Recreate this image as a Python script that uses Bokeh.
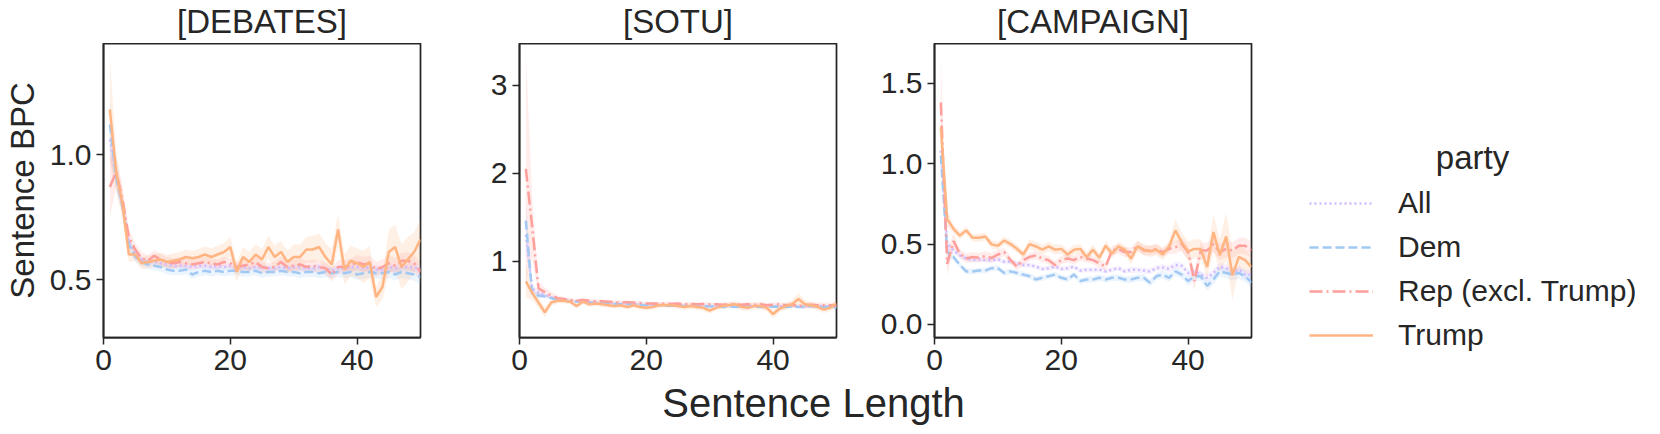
from bokeh.plotting import figure
from bokeh.layouts import row, column
from bokeh.models import Range1d, FixedTicker, Legend, LegendItem
from bokeh.embed import file_html
from bokeh.resources import INLINE
from bokeh.core.properties import value

# ---------------- data ----------------
sentence_length = [1, 2, 3, 4, 5, 6, 7, 8, 9, 10, 11, 12, 13, 14, 15, 16, 17, 18, 19, 20,
                   21, 22, 23, 24, 25, 26, 27, 28, 29, 30, 31, 32, 33, 34, 35, 36, 37, 38, 39, 40,
                   41, 42, 43, 44, 45, 46, 47, 48, 49, 50]
parties = ["All", "Dem", "Rep (excl. Trump)", "Trump"]
panel_titles = ["[DEBATES]", "[SOTU]", "[CAMPAIGN]"]

x_ticks = [0, 20, 40]
x_tick_labels = ["0", "20", "40"]
debates_yticks = [0.5, 1.0]
debates_ylabels = ["0.5", "1.0"]
sotu_yticks = [1, 2, 3]
sotu_ylabels = ["1", "2", "3"]
campaign_yticks = [0.0, 0.5, 1.0, 1.5]
campaign_ylabels = ["0.0", "0.5", "1.0", "1.5"]

# DEBATES
debates_all = [1.06, 0.92, 0.80, 0.65, 0.605, 0.58, 0.57, 0.57, 0.565, 0.56, 0.555, 0.555, 0.555, 0.55, 0.555, 0.555, 0.55, 0.555, 0.55, 0.555,
               0.55, 0.55, 0.545, 0.55, 0.55, 0.545, 0.545, 0.55, 0.545, 0.55, 0.55, 0.545, 0.545, 0.55, 0.545, 0.535, 0.545, 0.545, 0.55, 0.55,
               0.545, 0.55, 0.54, 0.54, 0.55, 0.545, 0.55, 0.55, 0.55, 0.54]
debates_all_ci = [0.08, 0.04, 0.03, 0.02, 0.015, 0.012, 0.012, 0.012, 0.012, 0.012, 0.012, 0.012, 0.012, 0.012, 0.012, 0.012, 0.012, 0.012, 0.012, 0.012,
                  0.012, 0.012, 0.012, 0.012, 0.012, 0.012, 0.012, 0.012, 0.012, 0.012, 0.013, 0.013, 0.013, 0.013, 0.013, 0.014, 0.014, 0.014, 0.014, 0.015,
                  0.015, 0.015, 0.016, 0.016, 0.016, 0.017, 0.017, 0.017, 0.018, 0.018]
debates_dem = [1.12, 0.91, 0.79, 0.64, 0.59, 0.57, 0.56, 0.555, 0.55, 0.54, 0.535, 0.535, 0.54, 0.52, 0.53, 0.535, 0.53, 0.535, 0.53, 0.535,
               0.535, 0.53, 0.53, 0.535, 0.525, 0.53, 0.53, 0.535, 0.53, 0.53, 0.525, 0.53, 0.53, 0.525, 0.53, 0.525, 0.53, 0.525, 0.53, 0.52,
               0.525, 0.53, 0.525, 0.525, 0.53, 0.52, 0.53, 0.525, 0.52, 0.51]
debates_dem_ci = [0.10, 0.05, 0.03, 0.025, 0.02, 0.018, 0.018, 0.018, 0.018, 0.018, 0.018, 0.018, 0.018, 0.018, 0.018, 0.018, 0.018, 0.018, 0.018, 0.018,
                  0.018, 0.018, 0.018, 0.018, 0.018, 0.018, 0.018, 0.018, 0.018, 0.018, 0.02, 0.02, 0.02, 0.02, 0.02, 0.02, 0.02, 0.02, 0.022, 0.022,
                  0.022, 0.022, 0.022, 0.024, 0.024, 0.024, 0.024, 0.025, 0.025, 0.025]
debates_rep = [0.87, 0.93, 0.82, 0.67, 0.62, 0.585, 0.575, 0.595, 0.58, 0.57, 0.565, 0.57, 0.565, 0.56, 0.565, 0.57, 0.565, 0.56, 0.57, 0.565,
               0.55, 0.555, 0.56, 0.57, 0.55, 0.545, 0.55, 0.57, 0.55, 0.555, 0.56, 0.55, 0.555, 0.55, 0.545, 0.52, 0.55, 0.55, 0.555, 0.57,
               0.56, 0.565, 0.54, 0.55, 0.565, 0.555, 0.575, 0.575, 0.565, 0.53]
debates_rep_ci = [0.12, 0.06, 0.05, 0.03, 0.025, 0.025, 0.022, 0.022, 0.022, 0.02, 0.02, 0.02, 0.02, 0.02, 0.02, 0.02, 0.02, 0.02, 0.02, 0.02,
                  0.02, 0.02, 0.022, 0.022, 0.022, 0.022, 0.022, 0.022, 0.022, 0.025, 0.025, 0.025, 0.025, 0.025, 0.025, 0.028, 0.028, 0.028, 0.028, 0.03,
                  0.03, 0.03, 0.03, 0.03, 0.032, 0.032, 0.032, 0.035, 0.035, 0.035]
debates_trump = [1.18, 0.93, 0.80, 0.60, 0.60, 0.565, 0.57, 0.575, 0.58, 0.57, 0.575, 0.58, 0.59, 0.585, 0.59, 0.60, 0.59, 0.60, 0.61, 0.63,
                 0.53, 0.59, 0.57, 0.60, 0.58, 0.63, 0.59, 0.61, 0.57, 0.59, 0.59, 0.62, 0.62, 0.63, 0.59, 0.56, 0.70, 0.54, 0.575, 0.565,
                 0.55, 0.57, 0.43, 0.47, 0.61, 0.63, 0.55, 0.58, 0.61, 0.66]
debates_trump_ci = [0.21, 0.08, 0.06, 0.03, 0.025, 0.025, 0.025, 0.025, 0.028, 0.028, 0.03, 0.03, 0.03, 0.03, 0.032, 0.032, 0.035, 0.035, 0.035, 0.04,
                    0.04, 0.04, 0.04, 0.042, 0.042, 0.045, 0.045, 0.045, 0.045, 0.05, 0.05, 0.05, 0.055, 0.055, 0.055, 0.06, 0.06, 0.06, 0.06, 0.06,
                    0.065, 0.065, 0.04, 0.05, 0.09, 0.09, 0.09, 0.09, 0.08, 0.08]

# SOTU
sotu_all = [1.30, 0.69, 0.64, 0.62, 0.59, 0.57, 0.56, 0.55, 0.545, 0.55, 0.535, 0.53, 0.525, 0.525, 0.52, 0.515, 0.515, 0.51, 0.51, 0.505,
            0.505, 0.505, 0.50, 0.50, 0.50, 0.495, 0.495, 0.495, 0.495, 0.49, 0.495, 0.49, 0.49, 0.49, 0.49, 0.49, 0.49, 0.49, 0.485, 0.49,
            0.49, 0.485, 0.49, 0.485, 0.49, 0.50, 0.49, 0.49, 0.485, 0.48]
sotu_all_ci = [0.20, 0.05, 0.03, 0.02, 0.015, 0.012, 0.01, 0.01, 0.01, 0.01, 0.01, 0.01, 0.01, 0.01, 0.01, 0.01, 0.01, 0.01, 0.01, 0.01,
               0.01, 0.01, 0.01, 0.01, 0.01, 0.01, 0.01, 0.01, 0.01, 0.01, 0.01, 0.01, 0.01, 0.01, 0.01, 0.012, 0.012, 0.012, 0.012, 0.012,
               0.012, 0.012, 0.012, 0.012, 0.014, 0.014, 0.014, 0.014, 0.015, 0.015]
sotu_dem = [1.46, 0.63, 0.61, 0.60, 0.58, 0.56, 0.55, 0.545, 0.54, 0.55, 0.53, 0.525, 0.52, 0.52, 0.515, 0.51, 0.51, 0.505, 0.505, 0.50,
            0.50, 0.50, 0.495, 0.495, 0.49, 0.49, 0.49, 0.49, 0.49, 0.485, 0.49, 0.48, 0.485, 0.48, 0.485, 0.48, 0.485, 0.48, 0.48, 0.485,
            0.48, 0.48, 0.485, 0.48, 0.48, 0.49, 0.48, 0.48, 0.48, 0.47]
sotu_dem_ci = [0.25, 0.04, 0.03, 0.02, 0.015, 0.012, 0.012, 0.012, 0.012, 0.012, 0.012, 0.012, 0.012, 0.012, 0.012, 0.012, 0.012, 0.012, 0.012, 0.012,
               0.012, 0.012, 0.012, 0.012, 0.012, 0.012, 0.012, 0.012, 0.012, 0.012, 0.013, 0.013, 0.013, 0.013, 0.013, 0.014, 0.014, 0.014, 0.014, 0.014,
               0.015, 0.015, 0.015, 0.015, 0.016, 0.016, 0.016, 0.017, 0.017, 0.018]
sotu_rep = [2.05, 1.39, 0.69, 0.65, 0.61, 0.58, 0.57, 0.56, 0.55, 0.56, 0.55, 0.545, 0.545, 0.54, 0.535, 0.53, 0.535, 0.53, 0.525, 0.52,
            0.52, 0.515, 0.52, 0.515, 0.52, 0.51, 0.515, 0.51, 0.515, 0.51, 0.51, 0.505, 0.51, 0.51, 0.505, 0.51, 0.505, 0.51, 0.50, 0.505,
            0.51, 0.50, 0.505, 0.49, 0.50, 0.505, 0.50, 0.50, 0.50, 0.49]
sotu_rep_ci = [1.30, 0.35, 0.08, 0.05, 0.04, 0.03, 0.025, 0.02, 0.02, 0.02, 0.02, 0.02, 0.02, 0.02, 0.02, 0.02, 0.02, 0.02, 0.02, 0.02,
               0.02, 0.02, 0.02, 0.02, 0.02, 0.02, 0.02, 0.02, 0.022, 0.022, 0.022, 0.022, 0.022, 0.022, 0.022, 0.025, 0.025, 0.025, 0.025, 0.025,
               0.025, 0.025, 0.025, 0.025, 0.028, 0.028, 0.028, 0.03, 0.03, 0.03]
sotu_trump = [0.77, 0.64, 0.53, 0.42, 0.53, 0.55, 0.55, 0.54, 0.49, 0.54, 0.51, 0.52, 0.51, 0.50, 0.49, 0.50, 0.48, 0.50, 0.48, 0.47,
              0.48, 0.50, 0.50, 0.50, 0.49, 0.48, 0.49, 0.48, 0.47, 0.44, 0.47, 0.49, 0.50, 0.51, 0.48, 0.47, 0.49, 0.49, 0.47, 0.40,
              0.46, 0.49, 0.51, 0.57, 0.51, 0.50, 0.48, 0.45, 0.47, 0.52]
sotu_trump_ci = [0.18, 0.08, 0.06, 0.06, 0.035, 0.03, 0.03, 0.03, 0.03, 0.03, 0.03, 0.03, 0.03, 0.03, 0.03, 0.03, 0.03, 0.03, 0.03, 0.03,
                 0.03, 0.03, 0.03, 0.03, 0.03, 0.035, 0.035, 0.035, 0.035, 0.035, 0.035, 0.035, 0.035, 0.04, 0.04, 0.04, 0.04, 0.04, 0.04, 0.05,
                 0.04, 0.04, 0.045, 0.07, 0.05, 0.04, 0.04, 0.04, 0.04, 0.04]

# CAMPAIGN
campaign_all = [1.08, 0.50, 0.46, 0.43, 0.41, 0.40, 0.405, 0.40, 0.40, 0.405, 0.39, 0.39, 0.38, 0.37, 0.37, 0.36, 0.345, 0.35, 0.36, 0.345,
                0.35, 0.36, 0.335, 0.34, 0.34, 0.34, 0.33, 0.34, 0.35, 0.33, 0.34, 0.34, 0.335, 0.33, 0.35, 0.355, 0.345, 0.37, 0.365, 0.32,
                0.33, 0.31, 0.29, 0.32, 0.36, 0.35, 0.33, 0.34, 0.31, 0.31]
campaign_all_ci = [0.06, 0.03, 0.02, 0.015, 0.015, 0.015, 0.015, 0.015, 0.015, 0.015, 0.015, 0.015, 0.015, 0.015, 0.015, 0.015, 0.015, 0.015, 0.015, 0.015,
                   0.015, 0.015, 0.015, 0.015, 0.015, 0.015, 0.015, 0.015, 0.015, 0.015, 0.018, 0.018, 0.018, 0.018, 0.018, 0.02, 0.02, 0.02, 0.02, 0.022,
                   0.022, 0.022, 0.025, 0.025, 0.025, 0.025, 0.028, 0.028, 0.03, 0.03]
campaign_dem = [1.05, 0.45, 0.42, 0.37, 0.33, 0.33, 0.335, 0.335, 0.35, 0.35, 0.32, 0.33, 0.32, 0.31, 0.30, 0.28, 0.29, 0.30, 0.31, 0.29,
                0.28, 0.31, 0.27, 0.28, 0.28, 0.29, 0.28, 0.29, 0.29, 0.28, 0.28, 0.29, 0.29, 0.26, 0.30, 0.31, 0.29, 0.33, 0.31, 0.27,
                0.30, 0.30, 0.24, 0.28, 0.33, 0.32, 0.31, 0.32, 0.30, 0.26]
campaign_dem_ci = [0.06, 0.03, 0.02, 0.018, 0.018, 0.018, 0.018, 0.018, 0.018, 0.018, 0.018, 0.018, 0.018, 0.018, 0.018, 0.018, 0.018, 0.018, 0.018, 0.018,
                   0.018, 0.018, 0.018, 0.02, 0.02, 0.02, 0.02, 0.02, 0.02, 0.02, 0.022, 0.022, 0.022, 0.022, 0.022, 0.025, 0.025, 0.025, 0.025, 0.03,
                   0.03, 0.03, 0.03, 0.03, 0.032, 0.032, 0.035, 0.035, 0.035, 0.035]
campaign_rep = [1.38, 0.377, 0.518, 0.44, 0.41, 0.42, 0.415, 0.425, 0.413, 0.435, 0.45, 0.40, 0.36, 0.40, 0.42, 0.43, 0.41, 0.40, 0.37, 0.40,
                0.41, 0.40, 0.42, 0.41, 0.40, 0.38, 0.36, 0.46, 0.47, 0.45, 0.45, 0.49, 0.46, 0.46, 0.47, 0.45, 0.47, 0.48, 0.50, 0.45,
                0.27, 0.46, 0.46, 0.50, 0.45, 0.47, 0.46, 0.49, 0.49, 0.46]
campaign_rep_ci = [0.30, 0.07, 0.05, 0.03, 0.03, 0.03, 0.03, 0.03, 0.03, 0.03, 0.025, 0.025, 0.025, 0.025, 0.025, 0.025, 0.025, 0.025, 0.025, 0.025,
                   0.025, 0.025, 0.025, 0.025, 0.025, 0.025, 0.025, 0.03, 0.03, 0.03, 0.03, 0.03, 0.03, 0.03, 0.03, 0.03, 0.03, 0.04, 0.04, 0.04,
                   0.06, 0.05, 0.05, 0.05, 0.05, 0.05, 0.05, 0.05, 0.05, 0.05]
campaign_trump = [1.227, 0.657, 0.595, 0.553, 0.585, 0.539, 0.539, 0.547, 0.498, 0.49, 0.522, 0.50, 0.471, 0.435, 0.50, 0.485, 0.465, 0.485, 0.465, 0.47,
                  0.435, 0.465, 0.47, 0.419, 0.465, 0.415, 0.49, 0.44, 0.485, 0.465, 0.408, 0.485, 0.465, 0.455, 0.465, 0.435, 0.485, 0.585, 0.51, 0.455,
                  0.47, 0.47, 0.357, 0.575, 0.43, 0.547, 0.305, 0.42, 0.40, 0.357]
campaign_trump_ci = [0.12, 0.05, 0.025, 0.025, 0.025, 0.025, 0.025, 0.025, 0.025, 0.025, 0.025, 0.025, 0.025, 0.025, 0.03, 0.03, 0.03, 0.03, 0.03, 0.03,
                     0.03, 0.03, 0.03, 0.03, 0.03, 0.03, 0.03, 0.03, 0.03, 0.03, 0.035, 0.035, 0.035, 0.035, 0.035, 0.035, 0.035, 0.07, 0.06, 0.06,
                     0.06, 0.06, 0.07, 0.115, 0.10, 0.15, 0.155, 0.08, 0.07, 0.06]

debates_series = [(debates_all, debates_all_ci), (debates_dem, debates_dem_ci),
                  (debates_rep, debates_rep_ci), (debates_trump, debates_trump_ci)]
sotu_series = [(sotu_all, sotu_all_ci), (sotu_dem, sotu_dem_ci),
               (sotu_rep, sotu_rep_ci), (sotu_trump, sotu_trump_ci)]
campaign_series = [(campaign_all, campaign_all_ci), (campaign_dem, campaign_dem_ci),
                   (campaign_rep, campaign_rep_ci), (campaign_trump, campaign_trump_ci)]

# ---------------- style / layout ----------------
FONT = "Liberation Sans"
TXT = "#262626"
COLORS = {"All": "#d0bbff", "Dem": "#a1c9f4", "Rep (excl. Trump)": "#ff9f9b", "Trump": "#ffb482"}
DASHES = {"All": "2 3", "Dem": "9 4", "Rep (excl. Trump)": "13 4 2 4", "Trump": "solid"}
LW = 2.5

TOTAL_W, TOTAL_H = 1660, 434
FRAME_W, FRAME_H = 317, 294
HEADER_H = 43
BOTTOM_B = 45
RIGHT_B = 20
LEFTS = [103, 79, 78]
FIG_WIDTHS = [l + FRAME_W + RIGHT_B for l in LEFTS]
MAIN_W = sum(FIG_WIDTHS)
LEG_W = TOTAL_W - MAIN_W
XLAB_H = TOTAL_H - HEADER_H - FRAME_H - BOTTOM_B
BASE_SHIFT = 0.37  # em offset of the rendered text baseline


def make_panel(series, yrange, yticks, ylabels, left, with_ylabel):
    p = figure(width=left + FRAME_W + RIGHT_B, height=FRAME_H + BOTTOM_B,
               x_range=Range1d(0, 50), y_range=Range1d(*yrange),
               output_backend="svg", toolbar_location=None,
               min_border_left=left, min_border_right=RIGHT_B,
               min_border_top=0, min_border_bottom=BOTTOM_B)
    p.xgrid.visible = False
    p.ygrid.visible = False
    p.outline_line_color = TXT
    p.outline_line_width = 1.75
    p.background_fill_color = "white"
    p.border_fill_color = "white"
    for (mean, ci), party in zip(series, parties):
        lo = [m - c for m, c in zip(mean, ci)]
        hi = [m + c for m, c in zip(mean, ci)]
        p.varea(x=sentence_length, y1=lo, y2=hi, fill_color=COLORS[party], fill_alpha=0.2)
    for (mean, ci), party in zip(series, parties):
        p.line(x=sentence_length, y=mean, line_color=COLORS[party], line_width=LW,
               line_dash=DASHES[party])
    p.xaxis.ticker = FixedTicker(ticks=x_ticks)
    p.xaxis.major_label_overrides = dict(zip(x_ticks, x_tick_labels))
    p.yaxis.ticker = FixedTicker(ticks=yticks)
    p.yaxis.major_label_overrides = dict(zip(yticks, ylabels))
    for ax in (p.xaxis, p.yaxis):
        ax.axis_line_color = TXT
        ax.axis_line_width = 1.75
        ax.major_tick_line_color = TXT
        ax.major_tick_line_width = 1.5
        ax.major_tick_out = 7
        ax.major_tick_in = 0
        ax.minor_tick_line_color = None
        ax.major_label_text_font = FONT
        ax.major_label_text_font_size = "30px"
        ax.major_label_text_color = TXT
        ax.major_label_standoff = 5
    if with_ylabel:
        p.yaxis.axis_label = "Sentence BPC"
        p.yaxis.axis_label_text_font = FONT
        p.yaxis.axis_label_text_font_size = "33px"
        p.yaxis.axis_label_text_font_style = "normal"
        p.yaxis.axis_label_text_color = TXT
        p.yaxis.axis_label_standoff = 6
    return p


p1 = make_panel(debates_series, (0.268, 1.444), debates_yticks, debates_ylabels, LEFTS[0], True)
p2 = make_panel(sotu_series, (0.133, 3.474), sotu_yticks, sotu_ylabels, LEFTS[1], False)
p3 = make_panel(campaign_series, (-0.081, 1.747), campaign_yticks, campaign_ylabels, LEFTS[2], False)


def blank(width, height):
    f = figure(width=width, height=height, x_range=Range1d(0, width), y_range=Range1d(0, height),
               output_backend="svg", toolbar_location=None, x_axis_type=None, y_axis_type=None,
               min_border=0)
    f.xgrid.visible = False
    f.ygrid.visible = False
    f.outline_line_color = None
    f.background_fill_color = "white"
    f.border_fill_color = "white"
    return f


# header with panel titles (baseline 10px above the frames)
header = blank(MAIN_W, HEADER_H)
title_x = []
acc = 0
for w, l in zip(FIG_WIDTHS, LEFTS):
    title_x.append(acc + l + FRAME_W / 2)
    acc += w
title_base = 10 + BASE_SHIFT * 33
header.text(x=title_x, y=[title_base] * 3, text=panel_titles, text_font=value(FONT), text_font_size="33px",
            text_align="center", text_baseline="alphabetic", text_color=TXT)

# shared x label
xlab = blank(MAIN_W, XLAB_H)
xlab_base = TOTAL_H - 417 + BASE_SHIFT * 40
xlab.text(x=[813], y=[xlab_base], text=["Sentence Length"], text_font=value(FONT), text_font_size="40px",
          text_align="center", text_baseline="alphabetic", text_color=TXT)

# legend figure spanning the full height on the right
leg = blank(LEG_W, TOTAL_H)
items = []
for (mean, ci), party in zip(campaign_series, parties):
    r = leg.line(x=sentence_length[:1], y=mean[:1], line_color=COLORS[party], line_width=LW,
                 line_dash=DASHES[party])
    items.append(LegendItem(label=party, renderers=[r]))
legend = Legend(items=items, location=(38, TOTAL_H - 357), glyph_width=64, glyph_height=44, label_height=44,
                label_standoff=25, spacing=0, padding=0, margin=0, border_line_color=None,
                background_fill_alpha=0, label_text_font=FONT, label_text_font_size="30px",
                label_text_color=TXT)
leg.add_layout(legend)
party_base = TOTAL_H - 169 + BASE_SHIFT * 33
leg.text(x=[201], y=[party_base], text=["party"], text_font=value(FONT),
         text_font_size="33px", text_align="center", text_baseline="alphabetic", text_color=TXT)

main = column(header, row(p1, p2, p3), xlab)
layout = row(main, leg)
open("out.html", "w").write(file_html(layout, INLINE))
